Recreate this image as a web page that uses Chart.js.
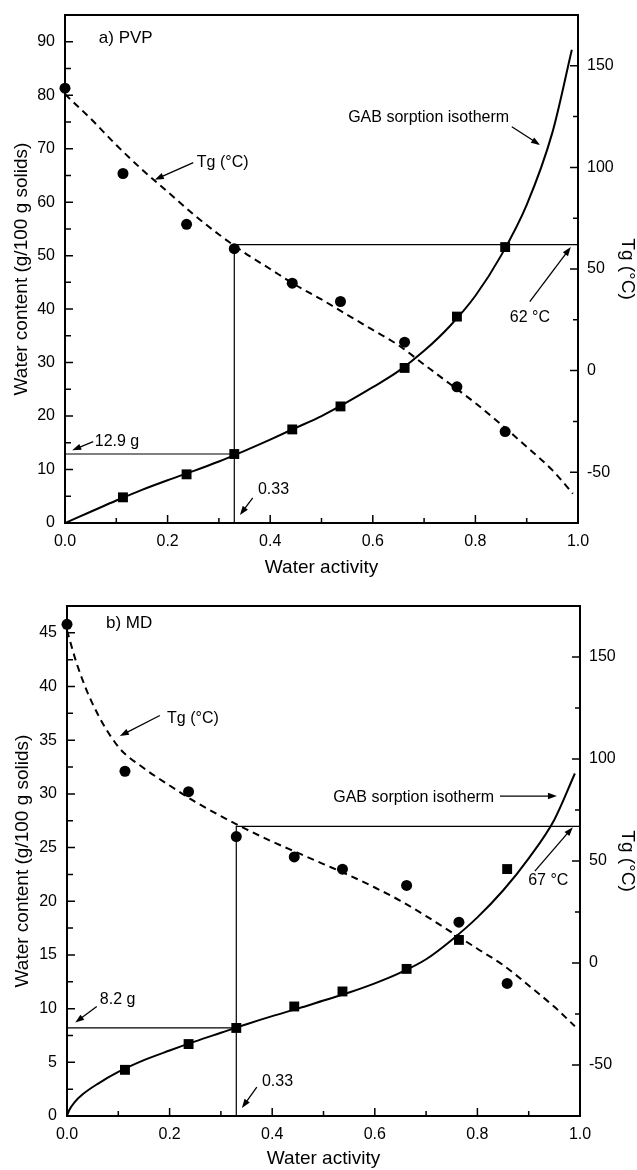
<!DOCTYPE html>
<html>
<head>
<meta charset="utf-8">
<title>Water sorption and Tg of PVP and MD</title>
<script src="https://cdn.jsdelivr.net/npm/chart.js@4.4.1/dist/chart.umd.min.js"></script>
<style>
  body { margin: 0; background: #fff; }
  canvas { display: block; }
</style>
</head>
<body>
<canvas id="chartPvp" width="637" height="585"></canvas>
<canvas id="chartMd" width="637" height="585"></canvas>
<script>
// water activity of the equilibrated samples
let awSamples = [0.113, 0.237, 0.33, 0.443, 0.537, 0.662, 0.764, 0.858];
let awTgSamples = [0, 0.113, 0.237, 0.33, 0.443, 0.537, 0.662, 0.764, 0.858];

// a) PVP
let pvpWater = [4.8, 9.1, 12.9, 17.5, 21.8, 29.0, 38.6, 51.6];
let pvpTg = [139, 97, 72, 60, 43, 34, 14, -8, -30];
let pvpGabAw = [0, 0.05, 0.1, 0.15, 0.2, 0.25, 0.3, 0.35, 0.4, 0.45, 0.5, 0.55, 0.6, 0.65, 0.7, 0.75, 0.8, 0.85, 0.9, 0.95, 0.988];
let pvpGab = [0, 2.1, 4.2, 6.2, 8.0, 9.7, 11.5, 13.5, 15.6, 17.8, 20.0, 22.6, 25.4, 28.4, 32.2, 36.8, 42.5, 50.0, 59.5, 73.0, 88.5];
let pvpFitAw = [0, 0.05, 0.1, 0.15, 0.2, 0.25, 0.3, 0.35, 0.4, 0.45, 0.5, 0.55, 0.6, 0.65, 0.7, 0.75, 0.8, 0.85, 0.9, 0.95, 0.99];
let pvpFitTg = [136, 124, 111, 99, 88, 77, 67, 58, 50, 42, 35, 27.5, 20, 12.5, 3, -6.5, -16, -26.5, -37.5, -49, -60.5];
let pvpRef = { aw: 0.33, water: 12.9, tg: 62 };

// b) MD
let mdWater = [4.3, 6.7, 8.2, 10.2, 11.6, 13.7, 16.4, 23.0];
let mdTg = [166, 94, 84, 62, 52, 46, 38, 20, -10];
let mdGabAw = [0, 0.005, 0.015, 0.03, 0.06, 0.1, 0.15, 0.2, 0.25, 0.3, 0.35, 0.4, 0.45, 0.5, 0.55, 0.6, 0.65, 0.7, 0.75, 0.8, 0.85, 0.9, 0.95, 0.99];
let mdGab = [0, 0.6, 1.3, 2.0, 3.0, 4.1, 5.2, 6.1, 6.95, 7.75, 8.55, 9.3, 10.0, 10.75, 11.5, 12.35, 13.35, 14.6, 16.4, 18.5, 21.0, 24.0, 27.6, 31.9];
let mdFitAw = [0, 0.02, 0.05, 0.1, 0.15, 0.2, 0.25, 0.3, 0.35, 0.4, 0.45, 0.5, 0.55, 0.6, 0.65, 0.7, 0.75, 0.8, 0.85, 0.9, 0.95, 0.99];
let mdFitTg = [163, 146, 127, 106, 95.5, 87, 79, 72, 65.5, 59.5, 54, 48.5, 43, 37, 30.5, 23, 15, 7, -1, -11, -21.5, -31];
let mdRef = { aw: 0.33, water: 8.2, tg: 67 };

// axis ticks
let awTicks = [0, 0.2, 0.4, 0.6, 0.8, 1.0];
let tgTicks = [-50, 0, 50, 100, 150];
let pvpWaterTicks = [0, 10, 20, 30, 40, 50, 60, 70, 80, 90];
let mdWaterTicks = [0, 5, 10, 15, 20, 25, 30, 35, 40, 45];

const FONT = "'Liberation Sans', Arial, Helvetica, sans-serif";

const zip = (xs, ys) => xs.map((x, i) => ({ x: x, y: ys[i] }));

// midpoints between major ticks, kept strictly inside the axis range
function minorTicks(ticks, min, max) {
  let step = ticks[1] - ticks[0];
  let out = [];
  for (let v = ticks[0] - step / 2; v < max; v += step) {
    if (v > min + 1e-9 && v < max - 1e-9) out.push(v);
  }
  return out;
}

function arrow(ctx, x1, y1, x2, y2) {
  let ang = Math.atan2(y2 - y1, x2 - x1);
  let len = 9, half = 3.2;
  let c = Math.cos(ang), s = Math.sin(ang);
  ctx.beginPath();
  ctx.moveTo(x1, y1);
  ctx.lineTo(x2 - c * len * 0.7, y2 - s * len * 0.7);
  ctx.stroke();
  ctx.beginPath();
  ctx.moveTo(x2, y2);
  ctx.lineTo(x2 - c * len + s * half, y2 - s * len - c * half);
  ctx.lineTo(x2 - c * len - s * half, y2 - s * len + c * half);
  ctx.closePath();
  ctx.fill();
}

function makePanel(canvasId, panel) {
  // frame, inward ticks, guide lines and notes
  let frame = {
    id: "frame",
    beforeDatasetsDraw(chart) {
      let { ctx, scales } = chart;
      let { x, y, y2 } = scales;
      let r = panel.ref;
      ctx.save();
      ctx.strokeStyle = "#000";
      ctx.lineWidth = 1.2;
      ctx.beginPath();
      ctx.moveTo(x.getPixelForValue(0), y.getPixelForValue(r.water));
      ctx.lineTo(x.getPixelForValue(r.aw), y.getPixelForValue(r.water));
      ctx.moveTo(x.getPixelForValue(r.aw), y.getPixelForValue(0));
      ctx.lineTo(x.getPixelForValue(r.aw), y2.getPixelForValue(r.tg));
      ctx.lineTo(x.getPixelForValue(1), y2.getPixelForValue(r.tg));
      ctx.stroke();
      ctx.restore();
    },
    afterDraw(chart) {
      let { ctx, chartArea: a, scales } = chart;
      let { x, y, y2 } = scales;
      ctx.save();
      ctx.strokeStyle = "#000";
      ctx.fillStyle = "#000";
      ctx.lineWidth = 2;
      ctx.strokeRect(a.left, a.top, a.right - a.left, a.bottom - a.top);

      ctx.lineWidth = 1.5;
      ctx.beginPath();
      awTicks.forEach((v) => {
        let px = x.getPixelForValue(v);
        ctx.moveTo(px, a.bottom); ctx.lineTo(px, a.bottom - 8);
      });
      minorTicks(awTicks, 0, 1).forEach((v) => {
        let px = x.getPixelForValue(v);
        ctx.moveTo(px, a.bottom); ctx.lineTo(px, a.bottom - 5);
      });
      panel.waterTicks.forEach((v) => {
        let py = y.getPixelForValue(v);
        ctx.moveTo(a.left, py); ctx.lineTo(a.left + 8, py);
      });
      minorTicks(panel.waterTicks, 0, panel.waterMax).forEach((v) => {
        let py = y.getPixelForValue(v);
        ctx.moveTo(a.left, py); ctx.lineTo(a.left + 6, py);
      });
      tgTicks.forEach((v) => {
        let py = y2.getPixelForValue(v);
        ctx.moveTo(a.right, py); ctx.lineTo(a.right - 8, py);
      });
      minorTicks(tgTicks, -75, 175).forEach((v) => {
        let py = y2.getPixelForValue(v);
        ctx.moveTo(a.right, py); ctx.lineTo(a.right - 5, py);
      });
      ctx.stroke();

      // notes with arrows
      ctx.lineWidth = 1.3;
      ctx.textBaseline = "middle";
      ctx.textAlign = "left";
      panel.notes.forEach((n) => {
        ctx.font = (n.size || 16) + "px " + FONT;
        ctx.fillText(n.text, x.getPixelForValue(n.x), y.getPixelForValue(n.y));
        if (n.from) {
          arrow(ctx,
            x.getPixelForValue(n.from[0]), y.getPixelForValue(n.from[1]),
            x.getPixelForValue(n.to[0]), y.getPixelForValue(n.to[1]));
        }
      });
      ctx.restore();
    },
  };

  const tickFont = { family: FONT, size: 16 };
  const titleFont = { family: FONT, size: 19, lineHeight: 1 };

  return new Chart(document.getElementById(canvasId), {
    type: "scatter",
    data: {
      datasets: [
        {
          label: "Tg fit",
          data: zip(panel.fitAw, panel.fitTg),
          yAxisID: "y2",
          showLine: true,
          borderColor: "#000",
          borderWidth: 2,
          borderDash: [7, 5],
          pointRadius: 0,
          cubicInterpolationMode: "monotone",
        },
        {
          label: "GAB sorption isotherm",
          data: zip(panel.gabAw, panel.gab),
          yAxisID: "y",
          showLine: true,
          borderColor: "#000",
          borderWidth: 2,
          pointRadius: 0,
          cubicInterpolationMode: "monotone",
        },
        {
          label: "Tg (°C)",
          data: zip(awTgSamples, panel.tg),
          yAxisID: "y2",
          pointStyle: "circle",
          pointRadius: 5.5,
          backgroundColor: "#000",
          borderWidth: 0,
          clip: false,
        },
        {
          label: "Water content",
          data: zip(awSamples, panel.water),
          yAxisID: "y",
          pointStyle: "rect",
          pointRadius: 7,
          backgroundColor: "#000",
          borderWidth: 0,
          clip: false,
        },
      ],
    },
    options: {
      responsive: false,
      animation: false,
      devicePixelRatio: 1,
      events: [],
      layout: { padding: { top: panel.top, left: 0, right: 0, bottom: 0 } },
      plugins: { legend: { display: false }, tooltip: { enabled: false } },
      scales: {
        x: {
          type: "linear",
          min: 0,
          max: 1,
          afterBuildTicks: (s) => { s.ticks = awTicks.map((v) => ({ value: v })); },
          afterFit: (s) => { s.height = panel.xHeight; s.paddingLeft = 0; s.paddingRight = 0; },
          grid: { display: false, drawTicks: false },
          border: { display: false },
          ticks: { color: "#000", font: tickFont, padding: 9, maxRotation: 0, callback: (v) => Number(v).toFixed(1) },
          title: { display: true, text: "Water activity", color: "#000", font: titleFont, padding: { top: 0, bottom: panel.xTitlePad } },
        },
        y: {
          type: "linear",
          position: "left",
          min: 0,
          max: panel.waterMax,
          afterBuildTicks: (s) => { s.ticks = panel.waterTicks.map((v) => ({ value: v })); },
          afterFit: (s) => { s.width = panel.leftWidth; s.paddingTop = 0; s.paddingBottom = 0; },
          grid: { display: false, drawTicks: false },
          border: { display: false },
          ticks: { color: "#000", font: tickFont, padding: 10 },
          title: { display: true, text: "Water content (g/100 g solids)", color: "#000", font: titleFont, padding: { top: panel.leftTitlePad, bottom: 0 } },
        },
        y2: {
          type: "linear",
          position: "right",
          min: -75,
          max: 175,
          afterBuildTicks: (s) => { s.ticks = tgTicks.map((v) => ({ value: v })); },
          afterFit: (s) => { s.width = panel.rightWidth; s.paddingTop = 0; s.paddingBottom = 0; },
          grid: { display: false, drawTicks: false },
          border: { display: false },
          ticks: { color: "#000", font: tickFont, padding: 9 },
          title: { display: true, text: "Tg (°C)", color: "#000", font: titleFont, padding: { top: 0, bottom: 0 } },
        },
      },
    },
    plugins: [frame],
  });
}

makePanel("chartPvp", {
  top: 15, leftWidth: 65, rightWidth: 59, xHeight: 62,
  xTitlePad: 7.5, leftTitlePad: 12,
  waterMax: 95, waterTicks: pvpWaterTicks,
  water: pvpWater, tg: pvpTg,
  gabAw: pvpGabAw, gab: pvpGab,
  fitAw: pvpFitAw, fitTg: pvpFitTg,
  ref: pvpRef,
  notes: [
    { text: "a) PVP", x: 0.066, y: 90.6, size: 17 },
    { text: "Tg (°C)", x: 0.257, y: 67.4, from: [0.25, 67.4], to: [0.175, 64.2] },
    { text: "GAB sorption isotherm", x: 0.552, y: 75.8, from: [0.871, 74.1], to: [0.926, 70.7] },
    { text: "62 °C", x: 0.867, y: 38.5, from: [0.906, 41.4], to: [0.986, 51.6] },
    { text: "12.9 g", x: 0.058, y: 15.2, from: [0.055, 15.2], to: [0.014, 13.6] },
    { text: "0.33", x: 0.376, y: 6.2, from: [0.366, 4.7], to: [0.341, 1.5] },
  ],
});

makePanel("chartMd", {
  top: 21, leftWidth: 67, rightWidth: 57, xHeight: 54,
  xTitlePad: 1.5, leftTitlePad: 13,
  waterMax: 47.5, waterTicks: mdWaterTicks,
  water: mdWater, tg: mdTg,
  gabAw: mdGabAw, gab: mdGab,
  fitAw: mdFitAw, fitTg: mdFitTg,
  ref: mdRef,
  notes: [
    { text: "b) MD", x: 0.076, y: 45.9, size: 17 },
    { text: "Tg (°C)", x: 0.195, y: 37.0, from: [0.181, 37.3], to: [0.103, 35.4] },
    { text: "GAB sorption isotherm", x: 0.519, y: 29.7, from: [0.844, 29.8], to: [0.955, 29.8] },
    { text: "67 °C", x: 0.899, y: 21.9, from: [0.912, 22.8], to: [0.986, 26.9] },
    { text: "8.2 g", x: 0.064, y: 10.8, from: [0.058, 10.2], to: [0.016, 8.7] },
    { text: "0.33", x: 0.38, y: 3.2, from: [0.37, 2.7], to: [0.341, 0.75] },
  ],
});
</script>
</body>
</html>
